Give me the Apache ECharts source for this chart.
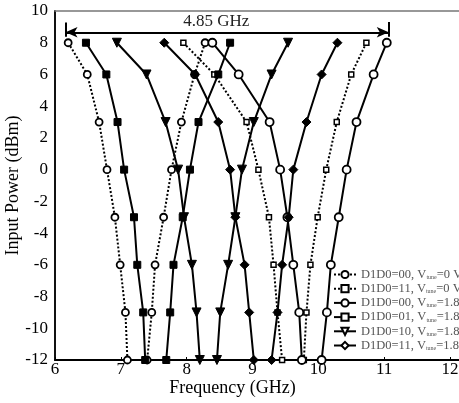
<!DOCTYPE html>
<html><head><meta charset="utf-8">
<script src="https://cdn.jsdelivr.net/npm/echarts@6/dist/echarts.min.js"></script>
<style>html,body{margin:0;padding:0;background:#fff}#c{width:459px;height:403px}</style>
</head><body><div id="c"></div>
<script>
// Input power levels (dBm), top to bottom
const powerLevels = [8, 6, 3, 0, -3, -6, -9, -12];
// Frequency (GHz) of lower / upper edge of each sensitivity curve
const s00_0V_low   = [6.20, 6.49, 6.67, 6.79, 6.91, 6.99, 7.07, 7.10];
const s00_0V_high  = [8.28, 8.12, 7.92, 7.77, 7.65, 7.52, 7.47, 7.40];
const s11_0V_low   = [7.95, 8.42, 8.91, 9.09, 9.25, 9.32, 9.38, 9.45];
const s11_0V_high  = [10.73, 10.50, 10.28, 10.12, 9.99, 9.88, 9.82, 9.78];
const s00_18_low   = [8.39, 8.79, 9.26, 9.42, 9.53, 9.62, 9.71, 9.75];
const s00_18_high  = [11.04, 10.84, 10.58, 10.43, 10.31, 10.19, 10.13, 10.05];
const s01_18_low   = [6.47, 6.78, 6.95, 7.05, 7.20, 7.25, 7.34, 7.37];
const s01_18_high  = [8.66, 8.48, 8.18, 8.05, 7.94, 7.80, 7.75, 7.69];
const s10_18_low   = [6.94, 7.39, 7.68, 7.87, 7.96, 8.08, 8.15, 8.20];
const s10_18_high  = [9.54, 9.29, 9.02, 8.84, 8.74, 8.63, 8.51, 8.46];
const s11_18_low   = [7.66, 8.13, 8.48, 8.66, 8.74, 8.88, 8.95, 9.02];
const s11_18_high  = [10.29, 10.05, 9.82, 9.62, 9.55, 9.45, 9.38, 9.29];

const seriesNames = [
  'D1D0=00, Vtune=0 V',
  'D1D0=11, Vtune=0 V',
  'D1D0=00, Vtune=1.8 V',
  'D1D0=01, Vtune=1.8 V',
  'D1D0=10, Vtune=1.8 V',
  'D1D0=11, Vtune=1.8 V'
];
const xTicks = [6, 7, 8, 9, 10, 11, 12];
const spanLabel = '4.85 GHz';
const spanEdges = [6.16, 11.07];
const spanLevel = 8.66;

const FONT = '"Liberation Serif", "DejaVu Serif", serif';

const styles = [
  {dash:'dotted', symbol:'circle', size:7, fill:'#fff', bw:1.8, rot:0},
  {dash:'dotted', symbol:'rect', size:5, fill:'#fff', bw:1.5, rot:0},
  {dash:'solid', symbol:'circle', size:8, fill:'#fff', bw:1.8, rot:0},
  {dash:'solid', symbol:'rect', size:7, fill:'#000', bw:1, rot:0},
  {dash:'solid', symbol:'triangle', size:9, fill:'#000', bw:1, rot:180},
  {dash:'solid', symbol:'diamond', size:9, fill:'#000', bw:1, rot:0}
];
const legendSizes = [7, 5, 8, 6, 7, 8];
const branches = [
  [s00_0V_low, s00_0V_high],
  [s11_0V_low, s11_0V_high],
  [s00_18_low, s00_18_high],
  [s01_18_low, s01_18_high],
  [s10_18_low, s10_18_high],
  [s11_18_low, s11_18_high]
];

const series = [];
branches.forEach((pair, k) => {
  const st = styles[k];
  pair.forEach(xs => {
    series.push({
      name: seriesNames[k],
      type: 'line',
      data: xs.map((x, i) => [x, powerLevels[i]]),
      symbol: st.symbol,
      symbolSize: st.size,
      symbolRotate: st.rot,
      showSymbol: true,
      animation: false,
      lineStyle: {color:'#000', width:2, type: st.dash},
      itemStyle: {color: st.fill, borderColor:'#000', borderWidth: st.bw},
      emphasis: {disabled: true}
    });
  });
});

// span annotation
series.push({
  type: 'line', data: [], silent: true, animation: false,
  markLine: {
    silent: true, animation: false,
    symbol: 'none',
    lineStyle: {color:'#000', width:2, type:'solid'},
    label: {show:false},
    data: [
      [{coord:[spanEdges[0], spanLevel], symbol:'arrow', symbolSize:[8,12]},
       {coord:[spanEdges[1], spanLevel], symbol:'arrow', symbolSize:[8,12]}],
      [{coord:[spanEdges[0], 8.38]}, {coord:[spanEdges[0], 9.28]}],
      [{coord:[spanEdges[1], 8.38]}, {coord:[spanEdges[1], 9.3]}]
    ]
  },
  markPoint: {
    silent: true, animation: false,
    symbol: 'circle', symbolSize: 0,
    label: {show:true, position:'inside', formatter: spanLabel, color:'#222', fontSize:17, fontFamily: FONT},
    data: [{coord:[8.45, 9.35]}]
  }
});

const chart = echarts.init(document.getElementById('c'), null, {renderer:'canvas'});
chart.setOption({
  animation: false,
  backgroundColor: '#fff',
  grid: {left:55, right:0, top:11, bottom:43, containLabel:false, outerBoundsMode:'none'},
  legend: {
    orient: 'vertical', left: 328, top: 263,
    itemWidth: 22, itemHeight: 9, itemGap: 1.2,
    data: seriesNames.map((n, k) => ({name: n, symbolSize: legendSizes[k], itemStyle: {color:'#fff', borderColor:'#000'}})),
    formatter: n => n.replace('Vtune', 'V{s|tune}'),
    textStyle: {fontFamily: FONT, fontSize: 12.5, color:'#555', lineHeight: 12,
      rich: {s: {fontSize: 6, fontFamily: FONT, color:'#555', verticalAlign:'bottom', lineHeight: 12}}}
  },
  xAxis: [{
    type: 'value', min: 6, max: 12.137, interval: 1,
    name: 'Frequency (GHz)', nameLocation: 'middle', nameGap: 19, nameMoveOverlap: false,
    nameTextStyle: {fontFamily: FONT, fontSize: 18, color:'#000', padding:[0,49,0,0]},
    axisLine: {show:true, onZero:false, lineStyle:{color:'#000', width:2}},
    axisTick: {show:true, inside:true, length:3, lineStyle:{color:'#000'}},
    axisLabel: {fontFamily: FONT, fontSize: 17, color:'#000', margin: 1, showMaxLabel: false,
      formatter: v => (xTicks.indexOf(v) >= 0 ? String(v) : '')},
    splitLine: {show:false}
  }, {
    type: 'value', min: 6, max: 12.137, position: 'top',
    axisLine: {show:true, onZero:false, lineStyle:{color:'#777', width:1.5}},
    axisTick: {show:false}, axisLabel: {show:false}, splitLine: {show:false}
  }],
  yAxis: {
    type: 'value', min: -12, max: 10, interval: 2,
    name: 'Input Power (dBm)', nameLocation: 'middle', nameGap: 33, nameMoveOverlap: false,
    nameTextStyle: {fontFamily: FONT, fontSize: 18, color:'#000'},
    axisLine: {show:true, onZero:false, lineStyle:{color:'#111', width:2}},
    axisTick: {show:false},
    axisLabel: {fontFamily: FONT, fontSize: 17, color:'#000', margin: 7},
    splitLine: {show:false}
  },
  series: series
});
</script></body></html>
